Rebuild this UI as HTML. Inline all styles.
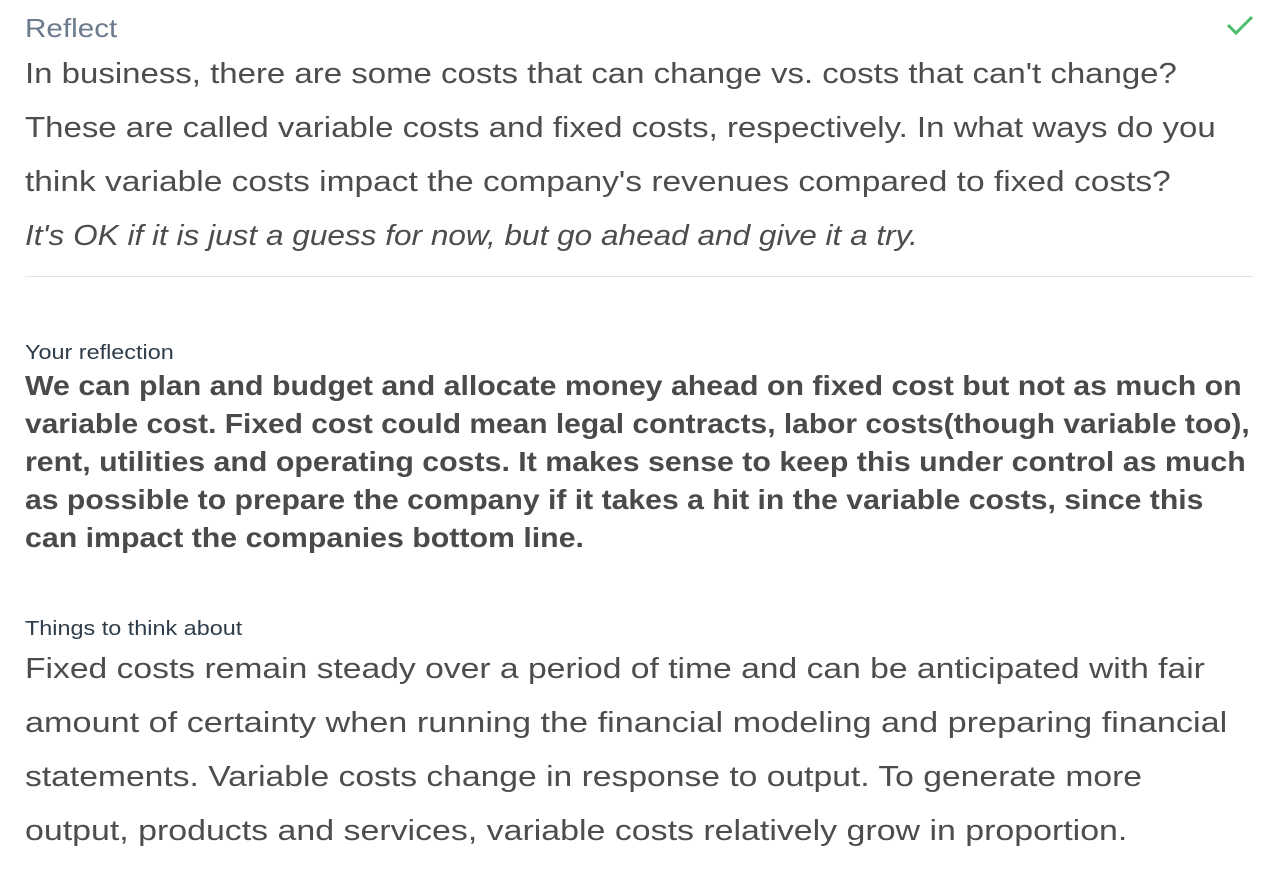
<!DOCTYPE html>
<html><head><meta charset="utf-8">
<style>
html,body{margin:0;padding:0;background:#fff;width:1266px;height:886px;overflow:hidden;}
body{position:relative;font-family:"Liberation Sans",sans-serif;color:#4a4a4a;}
.l{position:absolute;left:25px;white-space:nowrap;transform-origin:0 0;}
.q{font-size:29px;color:#4d4d4d;transform:scaleX(1.137);}
.t{font-size:29px;color:#4d4d4d;transform:scaleX(1.16);}
.b{font-size:27.3px;font-weight:bold;color:#4a4a4a;transform:scaleX(1.11);}
.lab{font-size:20px;color:#2e3d49;transform:scaleX(1.17);}
</style></head><body>
<div class="l" style="top:13px;font-size:26px;color:#6b7a8c;transform:scaleX(1.14)">Reflect</div>
<svg style="position:absolute;left:1226px;top:14px" width="28" height="22" viewBox="0 0 28 22"><path d="M2 11 L10 19 L26 3" stroke="#4cbd6d" stroke-width="3" fill="none"/></svg>
<div>
<div class="l q" style="top:58px">In business, there are some costs that can change vs. costs that can't change?</div>
<div class="l q" style="top:112px">These are called variable costs and fixed costs, respectively. In what ways do you</div>
<div class="l q" style="top:166px;transform:scaleX(1.155)">think variable costs impact the company's revenues compared to fixed costs?</div>
<div class="l q" style="top:220px;font-style:italic;transform:scaleX(1.088)">It's OK if it is just a guess for now, but go ahead and give it a try.</div>
</div>
<div style="position:absolute;left:25px;top:276px;width:1228px;height:1px;background:#dbe2e8"></div>
<div class="l lab" style="top:342px">Your reflection</div>
<div>
<div class="l b" style="top:370px">We can plan and budget and allocate money ahead on fixed cost but not as much on</div>
<div class="l b" style="top:408px;transform:scaleX(1.097)">variable cost. Fixed cost could mean legal contracts, labor costs(though variable too),</div>
<div class="l b" style="top:446px">rent, utilities and operating costs. It makes sense to keep this under control as much</div>
<div class="l b" style="top:484px;transform:scaleX(1.105)">as possible to prepare the company if it takes a hit in the variable costs, since this</div>
<div class="l b" style="top:522px">can impact the companies bottom line.</div>
</div>
<div class="l lab" style="top:618px">Things to think about</div>
<div>
<div class="l t" style="top:653px">Fixed costs remain steady over a period of time and can be anticipated with fair</div>
<div class="l t" style="top:707px;transform:scaleX(1.18)">amount of certainty when running the financial modeling and preparing financial</div>
<div class="l t" style="top:761px">statements. Variable costs change in response to output. To generate more</div>
<div class="l t" style="top:815px;transform:scaleX(1.169)">output, products and services, variable costs relatively grow in proportion.</div>
</div>
</body></html>
